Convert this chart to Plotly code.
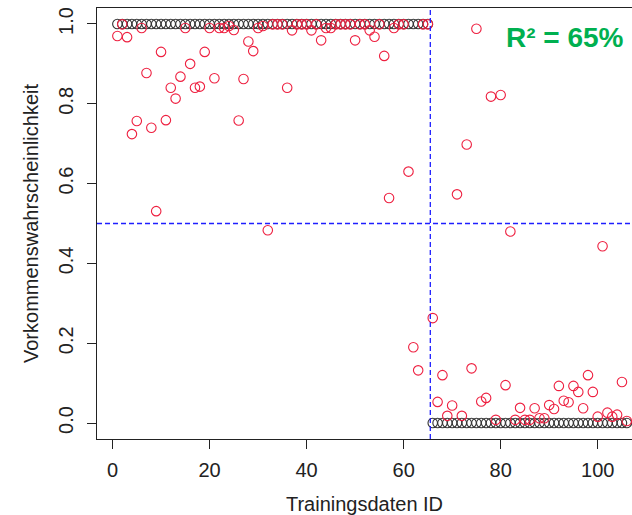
import plotly.graph_objects as go

# ---------------- data ----------------
n_presence = 65
n_absence = 41
ids = list(range(1, n_presence + n_absence + 1))
observed = [1] * n_presence + [0] * n_absence

predicted = [
    # 1-10
    0.970, 0.999, 0.967, 0.724, 0.757, 0.990, 0.877, 0.740, 0.531, 0.930,
    # 11-20
    0.759, 0.840, 0.813, 0.868, 0.990, 0.900, 0.840, 0.843, 0.930, 0.990,
    # 21-30
    0.864, 0.990, 0.990, 0.995, 0.985, 0.758, 0.862, 0.956, 0.932, 0.990,
    # 31-40
    0.995, 0.483, 0.999, 0.999, 0.999, 0.840, 0.984, 0.999, 0.999, 0.999,
    # 41-50
    0.984, 0.999, 0.959, 0.990, 0.990, 0.999, 0.999, 0.999, 0.999, 0.959,
    # 51-60
    0.999, 0.999, 0.984, 0.968, 0.999, 0.920, 0.564, 0.990, 0.999, 0.999,
    # 61-65
    0.630, 0.190, 0.132, 0.999, 0.999,
    # 66-75
    0.263, 0.053, 0.120, 0.018, 0.044, 0.573, 0.018, 0.698, 0.137, 0.988,
    # 76-85
    0.054, 0.063, 0.818, 0.008, 0.822, 0.095, 0.480, 0.008, 0.038, 0.008,
    # 86-95
    0.008, 0.037, 0.012, 0.012, 0.045, 0.035, 0.093, 0.056, 0.052, 0.093,
    # 96-106
    0.078, 0.037, 0.120, 0.078, 0.016, 0.443, 0.026, 0.016, 0.021, 0.103, 0.005,
]

threshold_id = 65.5
threshold_prob = 0.5
r2_label = "R² = 65%"

x_title = "Trainingsdaten ID"
y_title = "Vorkommenswahrscheinlichkeit"
x_ticks = [0, 20, 40, 60, 80, 100]
y_ticks = [0.0, 0.2, 0.4, 0.6, 0.8, 1.0]

# ---------------- figure ----------------
FONT = "Liberation Sans, Arial, Helvetica, sans-serif"
fig = go.Figure()

fig.add_trace(go.Scatter(
    x=ids, y=observed, mode="markers",
    marker=dict(symbol="circle-open", size=9.5, color="#333333", line=dict(width=1.1)),
    showlegend=False, hoverinfo="x+y",
))
fig.add_trace(go.Scatter(
    x=ids, y=predicted, mode="markers",
    marker=dict(symbol="circle-open", size=9.5, color="#ee2040", line=dict(width=1.1)),
    showlegend=False, hoverinfo="x+y",
))

fig.add_shape(type="line", xref="x", yref="paper", x0=threshold_id, x1=threshold_id,
              y0=0, y1=1, line=dict(color="#1f1fff", width=1.3, dash="5px,3px"))
fig.add_shape(type="line", xref="paper", yref="y", x0=0, x1=1,
              y0=threshold_prob, y1=threshold_prob,
              line=dict(color="#1f1fff", width=1.3, dash="5px,3px"))

fig.add_annotation(
    text=r2_label, xref="paper", yref="paper", x=0.760, y=0.9305,
    xanchor="left", yanchor="middle", showarrow=False,
    font=dict(family=FONT, size=28, color="#00b050", weight="bold"),
)

fig.update_layout(
    width=632, height=515,
    margin=dict(l=97, r=0, t=8, b=76, autoexpand=False),
    paper_bgcolor="white", plot_bgcolor="white",
    font=dict(family=FONT, size=20, color="#222222"),
    showlegend=False,
)
fig.update_xaxes(
    range=[-3.2, 107.07], tickvals=x_ticks, ticktext=[str(v) for v in x_ticks],
    showgrid=False, zeroline=False, automargin=False,
    showline=True, mirror=True, linecolor="#222222", linewidth=1.2,
    ticks="outside", ticklen=9, tickwidth=1.2, tickcolor="#222222",
    tickfont=dict(size=20), ticklabelstandoff=4,
    title=dict(text=x_title, font=dict(size=20), standoff=16),
)
fig.update_yaxes(
    range=[-0.04, 1.04], tickvals=y_ticks, ticktext=[f"{v:.1f}" for v in y_ticks],
    showgrid=False, zeroline=False, automargin=False,
    showline=True, mirror=False, linecolor="#222222", linewidth=1.2,
    ticks="outside", ticklen=9, tickwidth=1.2, tickcolor="#222222",
    tickangle=-90, tickfont=dict(size=20), ticklabelstandoff=6,
    title=dict(text=y_title, font=dict(size=20), standoff=10),
)

fig.write_html(
    "out.html",
    config={"displayModeBar": False},
    post_script="document.body.style.margin='0';document.body.style.overflow='hidden';",
)
